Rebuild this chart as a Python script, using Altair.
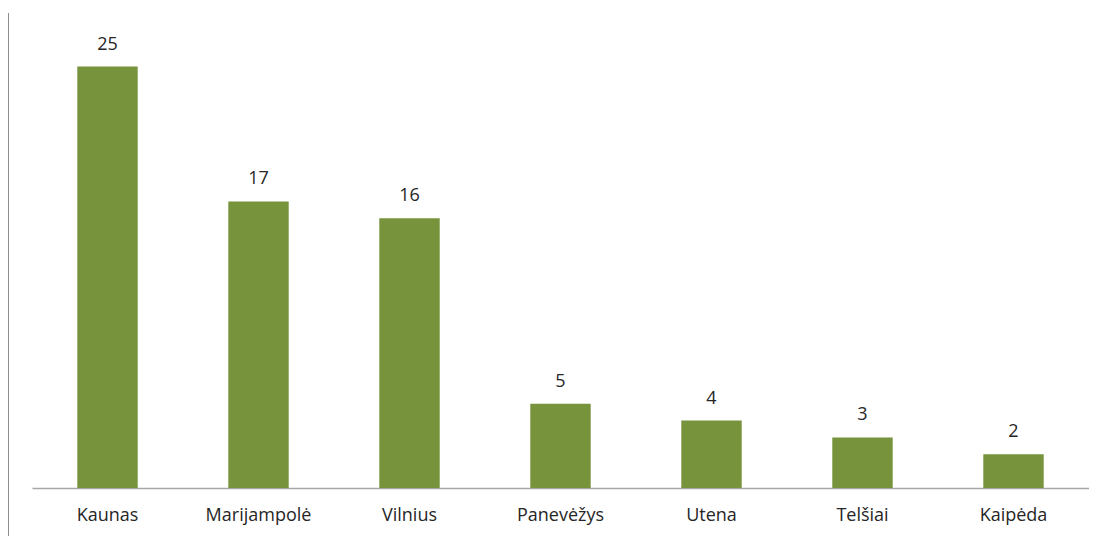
import altair as alt
import pandas as pd

cities = ["Kaunas", "Marijampolė", "Vilnius", "Panevėžys", "Utena", "Telšiai", "Kaipėda"]
values = [25, 17, 16, 5, 4, 3, 2]

df = pd.DataFrame({"city": cities, "value": values})

font = "Open Sans"

x = alt.X(
    "city:N",
    sort=cities,
    scale=alt.Scale(paddingInner=0.6, paddingOuter=0.3),
    axis=alt.Axis(
        title=None, labelAngle=0, ticks=False, domainColor="#a6a6a6", domainWidth=1.5,
        labelFont=font, labelFontSize=18, labelColor="#262626", labelPadding=18,
    ),
)
y = alt.Y("value:Q", scale=alt.Scale(domain=[0, 28], nice=False), axis=None)

bars = alt.Chart(df).mark_bar(color="#77933C").encode(x=x, y=y)
labels = alt.Chart(df).mark_text(
    dy=-22, font=font, fontSize=18, color="#262626"
).encode(x=x, y=y, text="value:Q")

border = alt.Chart(df).mark_rule(color="#8c8c8c", strokeWidth=2, clip=False).encode(
    x=alt.value(-24), y=alt.value(-3), y2=alt.value(530)
)

chart = alt.layer(bars, labels, border).properties(
    width=1057, height=472,
    background="white",
    autosize=alt.AutoSizeParams(type="none"),
    padding={"left": 24, "top": 8, "right": 0, "bottom": 50},
).configure_view(stroke="transparent", strokeWidth=0)

chart.save("out.html", embed_options={"renderer": "svg", "actions": False})
